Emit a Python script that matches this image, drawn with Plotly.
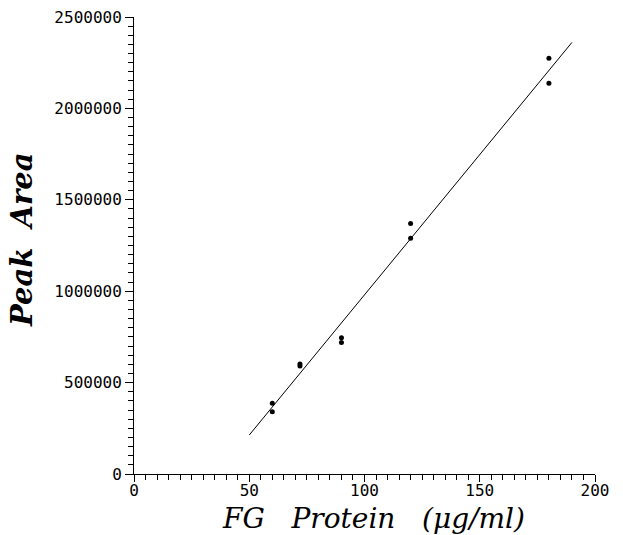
import plotly.graph_objects as go

# Data
protein_ug_ml = [60, 60, 72, 72, 90, 90, 120, 120, 180, 180]
peak_area = [387000, 341000, 602000, 591000, 745000, 720000, 1371000, 1289000, 2274000, 2137000]

# Regression line as drawn (endpoints)
fit_x = [50, 190]
fit_y = [213000, 2361000]

x_ticks = [0, 50, 100, 150, 200]
y_ticks = [0, 500000, 1000000, 1500000, 2000000, 2500000]

fig = go.Figure()
fig.add_trace(go.Scatter(x=fit_x, y=fit_y, mode="lines",
                         line=dict(color="black", width=1), showlegend=False))
fig.add_trace(go.Scatter(x=protein_ug_ml, y=peak_area, mode="markers",
                         marker=dict(color="black", size=5), showlegend=False))

tickfont = dict(family="DejaVu Sans Mono", size=16, color="black")
fig.update_layout(
    width=623, height=535,
    margin=dict(l=134, r=28, t=17, b=61),
    plot_bgcolor="white", paper_bgcolor="white",
    xaxis=dict(range=[0, 200], tickvals=x_ticks, ticktext=[str(v) for v in x_ticks],
               automargin=False, ticklabelstandoff=-5,
               showgrid=False, zeroline=False, showline=True, linecolor="black", linewidth=1,
               ticks="outside", ticklen=7, tickwidth=1, tickcolor="black", tickfont=tickfont,
               minor=dict(dtick=5, ticks="outside", ticklen=5, tickcolor="black", showgrid=False)),
    yaxis=dict(range=[0, 2500000], tickvals=y_ticks, ticktext=[str(v) for v in y_ticks],
               automargin=False,
               showgrid=False, zeroline=False, showline=True, linecolor="black", linewidth=1,
               ticks="outside", ticklen=8, tickwidth=1, tickcolor="black", tickfont=tickfont,
               minor=dict(dtick=50000, ticks="outside", ticklen=5, tickcolor="black", showgrid=False)),
    annotations=[
        dict(text="<i>FG   Protein   (μg/ml)</i>", xref="paper", yref="paper",
             x=0.52, y=-0.097, showarrow=False, xanchor="center", yanchor="middle",
             font=dict(family="DejaVu Serif", size=28, color="black")),
        dict(text="<b><i>Peak  Area</i></b>", xref="paper", yref="paper",
             x=-0.243, y=0.514, showarrow=False, xanchor="center", yanchor="middle",
             textangle=-90,
             font=dict(family="DejaVu Serif", size=29, color="black")),
    ],
)

fig.write_html("out.html", config={"displayModeBar": False},
               post_script="document.body.style.margin='0';")
